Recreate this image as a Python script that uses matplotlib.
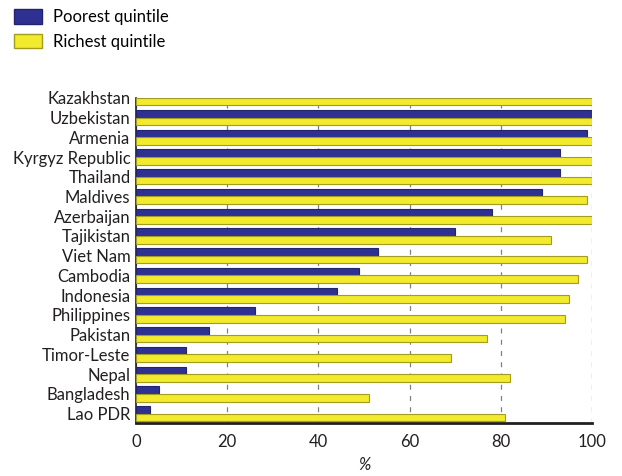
import matplotlib.pyplot as plt
import numpy as np
from matplotlib.patches import Patch

plt.rcParams["font.family"] = ["Lato", "DejaVu Sans"]

countries = ["Kazakhstan", "Uzbekistan", "Armenia", "Kyrgyz Republic", "Thailand",
             "Maldives", "Azerbaijan", "Tajikistan", "Viet Nam", "Cambodia",
             "Indonesia", "Philippines", "Pakistan", "Timor-Leste", "Nepal",
             "Bangladesh", "Lao PDR"]
poorest = [100, 100, 99, 93, 93, 89, 78, 70, 53, 49, 44, 26, 16, 11, 11, 5, 3]
richest = [100, 100, 100, 100, 100, 99, 100, 91, 99, 97, 95, 94, 77, 69, 82, 51, 81]

navy = "#2e3192"
yellow = "#f2ea2c"
txt = "#231f20"

fig = plt.figure(figsize=(6.22, 4.76), dpi=100)
ax = fig.add_axes([0.2187, 0.112, 0.733, 0.683])

n = len(countries)
pos = np.arange(n)[::-1]
h = 0.385

ax.barh(pos + h / 2, poorest, height=h, color=navy, edgecolor="#22246e", linewidth=0.8, zorder=3)
ax.barh(pos - h / 2, richest, height=h, color=yellow, edgecolor="#a39c1e", linewidth=0.8, zorder=3)

ax.set_yticks(pos)
ax.set_yticklabels(countries, fontsize=12, color=txt)
ax.set_xlim(0, 100)
ax.set_ylim(-0.456, n - 1 + 0.01)
ax.set_xticks([0, 20, 40, 60, 80, 100])
ax.tick_params(axis="both", length=0, colors=txt)
ax.tick_params(axis="x", pad=8, labelsize=12)
ax.tick_params(axis="y", pad=4)

ax.grid(True, axis="x", linestyle=(0, (4, 5)), color="#808080", linewidth=0.9, zorder=0)
ax.set_axisbelow(True)

for s in ["top", "right"]:
    ax.spines[s].set_visible(False)
ax.spines["left"].set_linewidth(1.2)
ax.spines["bottom"].set_linewidth(2)
ax.spines["left"].set_color(txt)
ax.spines["bottom"].set_color(txt)

ax.set_xlabel("%", fontsize=12, style="italic", color=txt, labelpad=5)

handles = [Patch(facecolor=navy, edgecolor="#22246e", label="Poorest quintile"),
           Patch(facecolor=yellow, edgecolor="#a39c1e", label="Richest quintile")]
fig.legend(handles=handles, loc="upper left", bbox_to_anchor=(0.0225, 0.981), frameon=False,
           fontsize=12, handlelength=1.7, handleheight=1.0, labelspacing=0.5,
           handletextpad=0.65, borderaxespad=0, borderpad=0)

plt.savefig("out.png", dpi=100, facecolor="white")
